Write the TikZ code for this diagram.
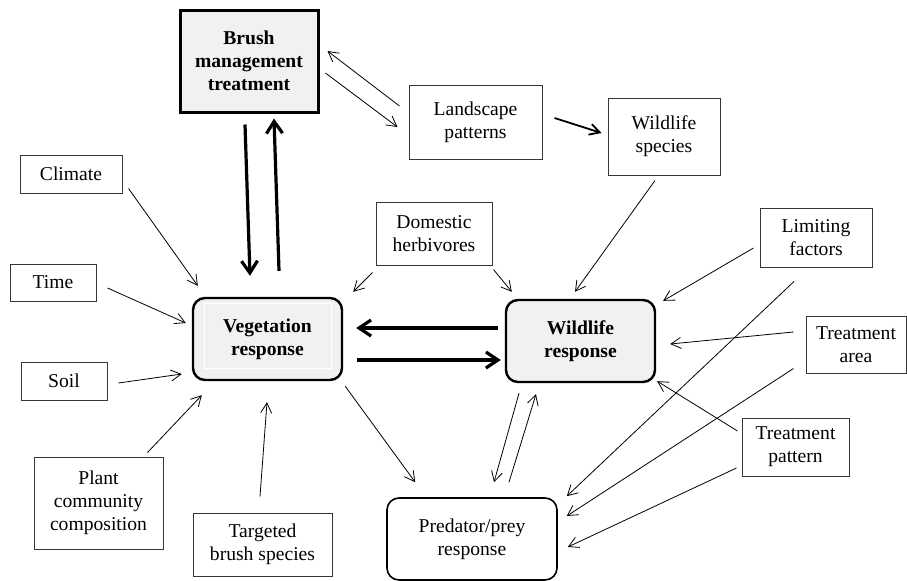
\documentclass[tikz,border=0pt]{standalone}
\usepackage{fontspec}
\setmainfont{Liberation Serif}
\usepackage{xcolor}
\usetikzlibrary{arrows.meta}
\definecolor{boxgray}{RGB}{240,241,243}
\definecolor{edgegray}{RGB}{55,55,55}

\begin{document}
\begin{tikzpicture}[x=0.5pt,y=-0.5pt,
    factor/.style={draw=edgegray,line width=0.5pt,align=center,inner sep=1pt,
      font=\fontsize{9.8}{11.5}\selectfont},
    resp/.style={draw,fill=boxgray,rounded corners=6pt,line width=1.2pt,align=center,
      inner sep=1pt,font=\fontsize{9.8}{11.5}\selectfont\bfseries},
    treat/.style={resp,sharp corners,line width=1.5pt},
    outcome/.style={draw,rounded corners=6pt,line width=0.8pt,align=center,
      inner sep=1pt,font=\fontsize{9.8}{11.5}\selectfont},
    link/.style={-{Straight Barb[length=5pt,width=5.5pt]},line width=0.4pt},
    flow/.style={-{Straight Barb[length=6pt,width=8pt]},line width=1.6pt}]
  \useasboundingbox (0,0) rectangle (907,580);

  \node[treat, minimum width=69pt, minimum height=51pt] (brush) at (249,61) {Brush\\management\\treatment};
  \node[factor, minimum width=66.5pt, minimum height=37pt] (land) at (475.5,122) {Landscape\\patterns};
  \node[factor, minimum width=56pt, minimum height=38.5pt] (wspec) at (664,136.5) {Wildlife\\species};
  \node[factor, minimum width=51pt, minimum height=19pt] (climate) at (71,174) {Climate};
  \node[factor, minimum width=43pt, minimum height=18.5pt] (time) at (53,282.5) {Time};
  \node[factor, minimum width=43pt, minimum height=19pt] (soil) at (64,381) {Soil};
  \node[factor, minimum width=64.5pt, minimum height=46pt] (plant) at (98.5,503) {Plant\\community\\composition};
  \node[factor, minimum width=69.5pt, minimum height=31.5pt] (target) at (262.5,544.5) {Targeted\\brush species};
  \node[factor, minimum width=58pt, minimum height=31.5pt] (dom) at (434,233.5) {Domestic\\herbivores};
  \node[factor, minimum width=56pt, minimum height=29.5pt] (limit) at (816,237.5) {Limiting\\factors};
  \node[factor, minimum width=50pt, minimum height=28.5pt] (tarea) at (856,344.5) {Treatment\\area};
  \node[factor, minimum width=53.5pt, minimum height=29pt] (tpat) at (795.5,447) {Treatment\\pattern};
  \node[resp, minimum width=74.5pt, minimum height=41pt] (veg) at (267.5,339) {Vegetation\\response};
  \node[resp, minimum width=74.5pt, minimum height=41pt] (wild) at (580.5,341) {Wildlife\\response};
  \node[outcome, minimum width=85pt, minimum height=41pt] (pred) at (472,539) {Predator/prey\\response};

  \draw[white, line width=0.6pt] ([shift={(13,7)}]veg.north west) rectangle ([shift={(-12,-13)}]veg.south east);

  \path[flow]
    ([shift={(-4,11)}]brush.south) edge ([shift={(-17.5,-21)}]veg.north)
    ([shift={(11.5,-26)}]veg.north) edge ([shift={(25,5)}]brush.south)
    ([shift={(-7,-13)}]wild.west) edge ([shift={(13,-11)}]veg.east)
    ([shift={(14,21)}]veg.east) edge ([shift={(-4,19)}]wild.west);
  \path[link]
    ([shift={(-9,-16)}]land.west) edge ([shift={(8,-10)}]brush.east)
    ([shift={(6,12)}]brush.east) edge ([shift={(-11,5)}]land.west)
    ([shift={(12,-4)}]land.east) edge[line width=0.9pt] ([shift={(-6,-3.5)}]wspec.west)
    ([shift={(-9,5)}]wspec.south) edge ([shift={(-5.5,-7)}]wild.north)
    ([shift={(6,-5)}]climate.south east) edge ([shift={(6,-11)}]veg.north west)
    ([shift={(11,5.5)}]time.east) edge ([shift={(-6,-16)}]veg.west)
    ([shift={(11,2)}]soil.east) edge ([shift={(-10,35)}]veg.west)
    ([shift={(-16,-4)}]plant.north east) edge ([shift={(10,14)}]veg.south west)
    ([shift={(-2.5,-16)}]target.north) edge ([shift={(-0.5,21)}]veg.south)
    ([shift={(-3,7)}]dom.south west) edge ([shift={(10,-5)}]veg.north east)
    ([shift={(1,4)}]dom.south east) edge ([shift={(7,-7)}]wild.north west)
    ([shift={(-6,10.5)}]limit.west) edge ([shift={(7,2)}]wild.north east)
    ([shift={(-12,-12.5)}]tarea.west) edge ([shift={(14,3)}]wild.east)
    ([shift={(-4,-16)}]tpat.west) edge ([shift={(1,-2)}]wild.south east)
    ([shift={(-22,14)}]limit.south) edge ([shift={(9,-1)}]pred.north east)
    ([shift={(-12,-5)}]tarea.south west) edge ([shift={(9,-23)}]pred.east)
    ([shift={(-5,21)}]tpat.west) edge ([shift={(10,8)}]pred.east)
    ([shift={(2,5)}]veg.south east) edge ([shift={(29,-15)}]pred.north west)
    ([shift={(-61.5,10)}]wild.south) edge ([shift={(22,-15)}]pred.north)
    ([shift={(37,-15)}]pred.north) edge ([shift={(-44.5,11)}]wild.south);
\end{tikzpicture}
\end{document}
